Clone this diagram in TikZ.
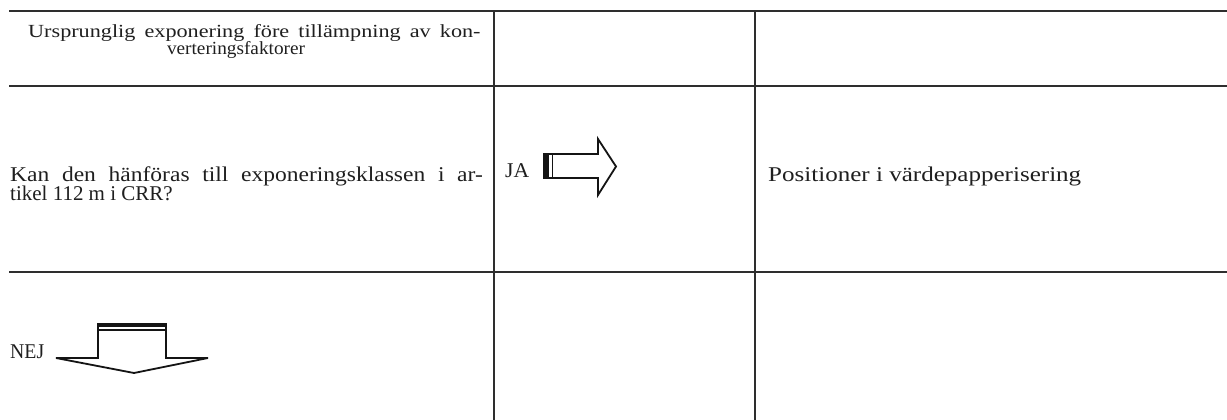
\documentclass[tikz,border=0pt]{standalone}
\usepackage{fontspec}
\setmainfont{Liberation Serif}
\usepackage{graphicx}
\newcommand\fitto[2]{\resizebox{#1}{\height}{#2}}
\newcommand\justto[3]{\scalebox{#2}[1]{\makebox[#1][s]{#3}}}
\tikzset{
  rule/.style={line width=2pt, draw=black!82},
  txt/.style={inner sep=0pt, anchor=base west, text=black!88},
  bodyfont/.style={font=\fontsize{21}{18}\selectfont},
  headfont/.style={font=\fontsize{18.5}{17}\selectfont},
  arrline/.style={line width=1.8pt, draw=black!92, line join=miter, fill=white},
}
\begin{document}
\begin{tikzpicture}[x=1pt,y=-1pt]
\useasboundingbox (0,0) rectangle (1227,420);
\fill[white] (0,0) rectangle (1227,420);
% table rules
\draw[rule] (9,11) -- (1227,11);
\draw[rule] (9,86.5) -- (1227,86.5);
\draw[rule] (9,271.5) -- (1227,271.5);
\draw[rule] (493.5,11) -- (493.5,420);
\draw[rule] (755,11) -- (755,420);
% header text
\node[txt, headfont] (h1) at (28,38) {\justto{377pt}{1.2}{Ursprunglig exponering före tillämpning av kon-}};
\node[txt, headfont, anchor=base] (h2) at (236,55) {\fitto{138pt}{verteringsfaktorer}};
% question
\node[txt, bodyfont] (q1) at (10,181) {\justto{422pt}{1.12}{Kan den hänföras till exponeringsklassen i ar-}};
\node[txt, bodyfont] (q2) at (10,200) {tikel 112 m i CRR?};
% answer
\node[txt, bodyfont] (pos) at (768,181) {\fitto{313pt}{Positioner i värdepapperisering}};
\node[txt, bodyfont] (ja) at (505,177) {\fitto{24pt}{JA}};
\node[txt, bodyfont] (nej) at (10,358) {\fitto{34pt}{NEJ}};
% JA arrow (right)
\draw[arrline] (548,154) -- (598,154) -- (598,139) -- (616,166.5) -- (598,195) -- (598,178) -- (548,178) -- cycle;
\fill[black!92] (543,153.1) rectangle (548,178.9);
\draw[line width=1.3pt, black!92] (552.5,154) -- (552.5,178);
% NEJ arrow (down)
\draw[arrline] (98,326) -- (98,358) -- (56,358) -- (134,373) -- (208,358) -- (166,358) -- (166,326) -- cycle;
\fill[black!92] (97.1,322.5) rectangle (166.9,326.5);
\draw[line width=1.3pt, black!92] (98,330) -- (166,330);
\end{tikzpicture}
\end{document}
